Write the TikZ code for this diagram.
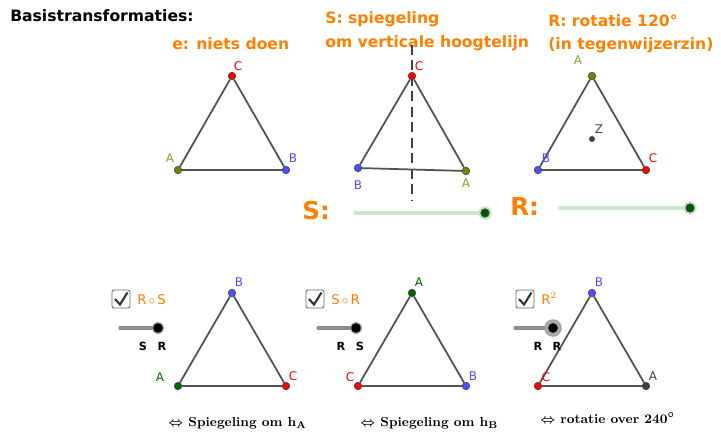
\documentclass[tikz,border=0pt]{standalone}
\usepackage{fontspec}
\setsansfont{DejaVu Sans}
\usetikzlibrary{positioning}
\definecolor{oranjegg}{RGB}{255,127,0}
\definecolor{roodgg}{RGB}{255,0,0}
\definecolor{blauwgg}{RGB}{77,77,255}
\definecolor{olijfgg}{RGB}{100,140,0}
\definecolor{groengg}{RGB}{0,100,0}
\definecolor{grijsgg}{RGB}{64,64,64}
\definecolor{schuifgg}{RGB}{205,228,205}

\begin{document}
\begin{tikzpicture}[x=0.025cm, y=-0.025cm,
        punt/.style={circle, draw=black!75, fill=#1, inner sep=0pt, minimum size=0.19cm, line width=0.4pt},
        naam/.style={text=#1, font=\sffamily\fontsize{8.5}{10}\selectfont, inner sep=0pt},
        titel/.style={text=oranjegg, font=\sffamily\bfseries\fontsize{11.1}{13}\selectfont, anchor=base west, inner sep=0pt},
        zijde/.style={draw=black!68, line width=1.25pt},
        vinkje/.style={draw=black!60, fill=white, rounded corners=1.5pt, line width=0.6pt},
        knop/.style={circle, fill=black, inner sep=0pt, minimum size=0.24cm},
        onder/.style={font=\rmfamily\bfseries\boldmath\fontsize{9.3}{11}\selectfont, anchor=base west, inner sep=0pt}
    ]
    \useasboundingbox (0,0) rectangle (721,432);

    % titels
    \node[titel, text=black] (kop) at (10,22) {Basistransformaties:};
    \node[titel] (te) at (172,50) {e: niets doen};
    \node[titel] (ts1) at (325,24) {S: spiegeling};
    \node[titel] (ts2) at (325,48) {om verticale hoogtelijn};
    \node[titel] (tr1) at (548,27) {R: rotatie 120°};
    \node[titel] (tr2) at (548,50) {(in tegenwijzerzin)};

    % e
    \node[punt=roodgg] (eC) at (232,76) {};
    \node[punt=olijfgg] (eA) at (178,170) {};
    \node[punt=blauwgg] (eB) at (286,170) {};
    \draw[zijde] (eA) -- (eB) -- (eC) -- (eA);
    \node[naam=roodgg] at (238,66) {C};
    \node[naam=olijfgg!80!white] at (170,158) {A};
    \node[naam=blauwgg] at (293,158) {B};

    % S
    \draw[black!75, line width=1.2pt, dash pattern=on 7pt off 4pt] (412,45) -- (412,200);
    \node[punt=roodgg] (sC) at (412,76) {};
    \node[punt=blauwgg] (sB) at (358,168) {};
    \node[punt=olijfgg] (sA) at (466,171) {};
    \draw[zijde] (sB) -- (sA) -- (sC) -- (sB);
    \node[naam=roodgg] at (419,66) {C};
    \node[naam=blauwgg] at (358,185) {B};
    \node[naam=olijfgg!80!white] at (466,183) {A};

    % R
    \node[punt=olijfgg] (rA) at (592,76) {};
    \node[punt=blauwgg] (rB) at (538,170) {};
    \node[punt=roodgg] (rC) at (646,170) {};
    \node[circle, fill=grijsgg, inner sep=0pt, minimum size=0.15cm] (rZ) at (592,139) {};
    \draw[zijde] (rB) -- (rC) -- (rA) -- (rB);
    \node[naam=olijfgg!80!white] at (578,60) {A};
    \node[naam=blauwgg] at (546,158) {B};
    \node[naam=roodgg] at (653,158) {C};
    \node[naam=grijsgg] at (599,129) {Z};

    % schuifbalken S en R
    \foreach \n/\x/\y/\a/\k in {S/302/213/355/485, R/510/208/560/690}
    {
        \node[titel, font=\sffamily\bfseries\fontsize{17.5}{19}\selectfont] (l\n) at (\x,\y+7) {\n:};
        \coordinate (b\n) at (\a,\y);
        \node[circle, fill=schuifgg, inner sep=0pt, minimum size=0.34cm] (h\n) at (\k,\y) {};
        \draw[schuifgg, line width=2.6pt, line cap=round] (b\n) -- (h\n);
        \node[circle, fill=groengg!85!black, draw=black!60, inner sep=0pt, minimum size=0.22cm] (k\n) at (\k,\y) {};
    }

    % samenstellingen: driehoeken
    \foreach \n/\cx/\t/\tc/\l/\lc/\lx/\r/\rc in {
        rs/232/B/blauwgg/A/groengg/-72/C/roodgg,
        sr/412/A/groengg/C/roodgg/-62/B/blauwgg,
        rr/592/B/blauwgg/C/roodgg/-46/A/grijsgg}
    {
        \node[punt=\tc] (\n\t) at (\cx,293) {};
        \node[punt=\lc] (\n\l) at (\cx-54,386) {};
        \node[punt=\rc] (\n\r) at (\cx+54,386) {};
        \draw[zijde] (\n\l) -- (\n\r) -- (\n\t) -- (\n\l);
        \node[naam=\tc] at (\cx+7,282) {\t};
        \node[naam=\lc] at (\cx+\lx,377) {\l};
        \node[naam=\rc] at (\cx+61,376) {\r};
    }

    % samenstellingen: vinkjes en schuifjes
    \foreach \n/\bx/\sx/\t/\p/\q/\hs in {
        rs/0/0/{R$\,\circ\,$S}/S/R/0.3cm,
        sr/194/198/{S$\,\circ\,$R}/R/S/0.3cm,
        rr/404/395/{R$^2$}/R/R/0.44cm}
    {
        \draw[vinkje] (112+\bx,290) rectangle (130+\bx,308);
        \draw[black!80, line width=1.5pt] (115+\bx,299) -- (120+\bx,304.5) -- (127.5+\bx,292.5);
        \node[naam=oranjegg, font=\sffamily\fontsize{9.5}{11}\selectfont, anchor=base west] (t\n) at (137+\bx,304) {\t};
        \coordinate (b\n) at (120+\sx,328);
        \node[circle, fill=black!35, inner sep=0pt, minimum size=\hs] (h\n) at (158+\sx,328) {};
        \draw[black!45, line width=2.2pt, line cap=round] (b\n) -- (h\n);
        \node[knop] (k\n) at (158+\sx,328) {};
        \node[font=\sffamily\bfseries\fontsize{8}{9}\selectfont, anchor=base] at (143+\sx,350) {\p};
        \node[font=\sffamily\bfseries\fontsize{8}{9}\selectfont, anchor=base] at (162+\sx,350) {\q};
    }

    % onderschriften
    \node[onder] (o1) at (168,426) {$\Leftrightarrow$ Spiegeling om h$_{\mathbf{A}}$};
    \node[onder] (o2) at (360,426) {$\Leftrightarrow$ Spiegeling om h$_{\mathbf{B}}$};
    \node[onder] (o3) at (540,423) {$\Leftrightarrow$ rotatie over 240$^\circ$};
\end{tikzpicture}
\end{document}
